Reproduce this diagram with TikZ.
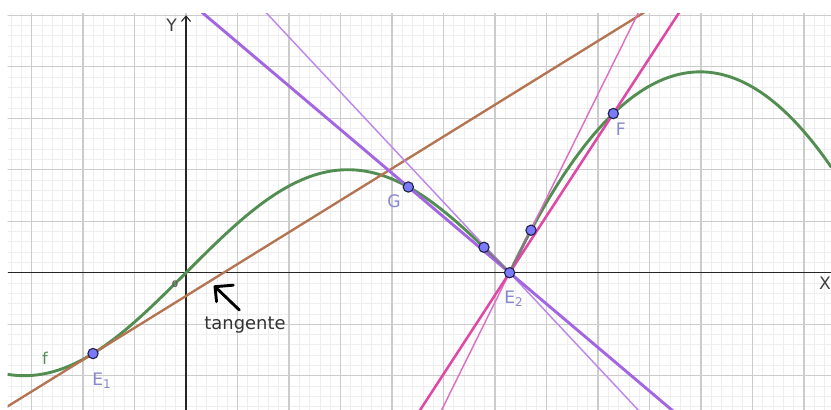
\documentclass[tikz,border=0pt]{standalone}
\usepackage{fontspec}
\setmainfont{DejaVu Sans}
\usetikzlibrary{calc, arrows.meta}

\definecolor{gridmajor}{RGB}{204,204,204}
\definecolor{gridminor}{RGB}{238,238,238}
\definecolor{fgreen}{RGB}{82,142,82}
\definecolor{tanbrown}{RGB}{180,116,82}
\definecolor{leftpurple}{RGB}{163,102,226}
\definecolor{leftpurplelight}{RGB}{190,135,236}
\definecolor{rightpink}{RGB}{224,72,166}
\definecolor{rightpinklight}{RGB}{222,110,196}
\definecolor{ptfill}{RGB}{122,122,250}
\definecolor{ptdraw}{RGB}{30,30,70}
\definecolor{ptlabel}{RGB}{135,135,210}

\begin{document}
\begin{tikzpicture}[
        >=Stealth,
        every node/.style={font=\fontsize{9}{10}\selectfont},
        minorgrid/.style={draw=gridminor, line width=0.35pt},
        majorgrid/.style={draw=gridmajor, line width=0.6pt},
        axis/.style={draw=black!85, line width=0.6pt},
        curve/.style={draw=fgreen, line width=1.6pt},
        tangent/.style={draw=tanbrown, line width=1.3pt},
        secant/.style={line width=1.6pt},
        tangentthin/.style={line width=0.8pt},
        chord/.style={draw=black!55, line width=1pt, opacity=0.7},
        pt/.style={circle, fill=ptfill, draw=ptdraw, line width=0.6pt, minimum size=0.2cm, inner sep=0pt},
        ptname/.style={text=ptlabel, font=\fontsize{9.5}{10}\selectfont},
        axisname/.style={text=black!75, font=\fontsize{9.5}{10}\selectfont}
    ]
        \useasboundingbox (-3.612,-2.666) rectangle (12.524,5.295);

        % Points on f
        \coordinate (E1) at (-1.806,-1.570);
        \coordinate (G) at (4.317,1.664);
        \coordinate (P1) at (5.786,0.493);
        \coordinate (E2) at (6.2832,0);
        \coordinate (P2) at (6.699,0.825);
        \coordinate (F) at (8.297,3.090);

        \begin{scope}
            \clip (-3.466,-2.666) rectangle (12.524,5.04);

            % Grid
            \draw[minorgrid] (-3.6,-2.8) grid[step=0.2] (12.6,5.2);
            \draw[majorgrid] (-3.6,-2.8) grid[step=1] (12.6,5.2);

            % Axes
            \draw[axis] (-3.466,0) -- (12.524,0);
            \draw[axis, -{Straight Barb[length=3pt, width=5pt]}] (0,-2.666) -- (0,5.0);

            % f
            \draw[curve] plot[domain=-3.47:6.2832, samples=120] (\x,{2*sin(deg(\x/2))})
                -- plot[domain=6.2832:12.53, samples=80] (\x,{3.9-0.2853*(\x-9.982)^2});

            % Tangent at E1
            \draw[tangent] ($(E1)+(-5,-3.095)$) -- ($(E1)+(15,9.285)$);

            % Lines through E2
            \draw[tangentthin, leftpurplelight] ($(E2)+(-6,6.408)$) -- ($(E2)+(4,-4.272)$);
            \draw[secant, leftpurple] ($(E2)!6!(G)$) -- ($(E2)!-4!(G)$);
            \draw[tangentthin, rightpinklight] ($(E2)+(-2,-4.04)$) -- ($(E2)+(3,6.06)$);
            \draw[secant, rightpink, line width=1.4pt] ($(E2)!-3!(F)$) -- ($(E2)!4!(F)$);
            \draw[chord] (P1) -- (E2) -- (P2);
        \end{scope}

        % Nodes
        \node[pt] (e1) at (E1) {};
        \node[pt] (g) at (G) {};
        \node[pt] (p1) at (P1) {};
        \node[pt] (e2) at (E2) {};
        \node[pt] (p2) at (P2) {};
        \node[pt] (f) at (F) {};

        \node[ptname] (e1name) at (-1.631,-2.103) {E\textsubscript{1}};
        \node[ptname] (gname) at (4.039,1.392) {G};
        \node[ptname] (e2name) at (6.369,-0.511) {E\textsubscript{2}};
        \node[ptname] (fname) at (8.441,2.784) {F};
        \node[text=fgreen] (fcurve) at (-2.738,-1.662) {f};

        \node[axisname] (yname) at (-0.278,4.81) {Y};
        \node[axisname] (xname) at (12.41,-0.206) {X};
        \node[text=black!60, font=\fontsize{5}{6}\selectfont\bfseries] (origin) at (-0.214,-0.219) {0};

        \node[text=black!80, font=\fontsize{9.9}{11}\selectfont] (tangente) at (1.146,-1.016) {tangente};

        % Hand drawn arrow
        \coordinate (tip) at (0.563,-0.272);
        \coordinate (tail) at (1.035,-0.724);
        \draw[line width=1.6pt, line cap=round, line join=round] (tail) -- (tip);
        \draw[line width=1.6pt, line cap=round, line join=round] ($(tip)+(0.355,0.03)$) -- (tip) -- ($(tip)+(0.03,-0.29)$);
    \end{tikzpicture}
\end{document}
